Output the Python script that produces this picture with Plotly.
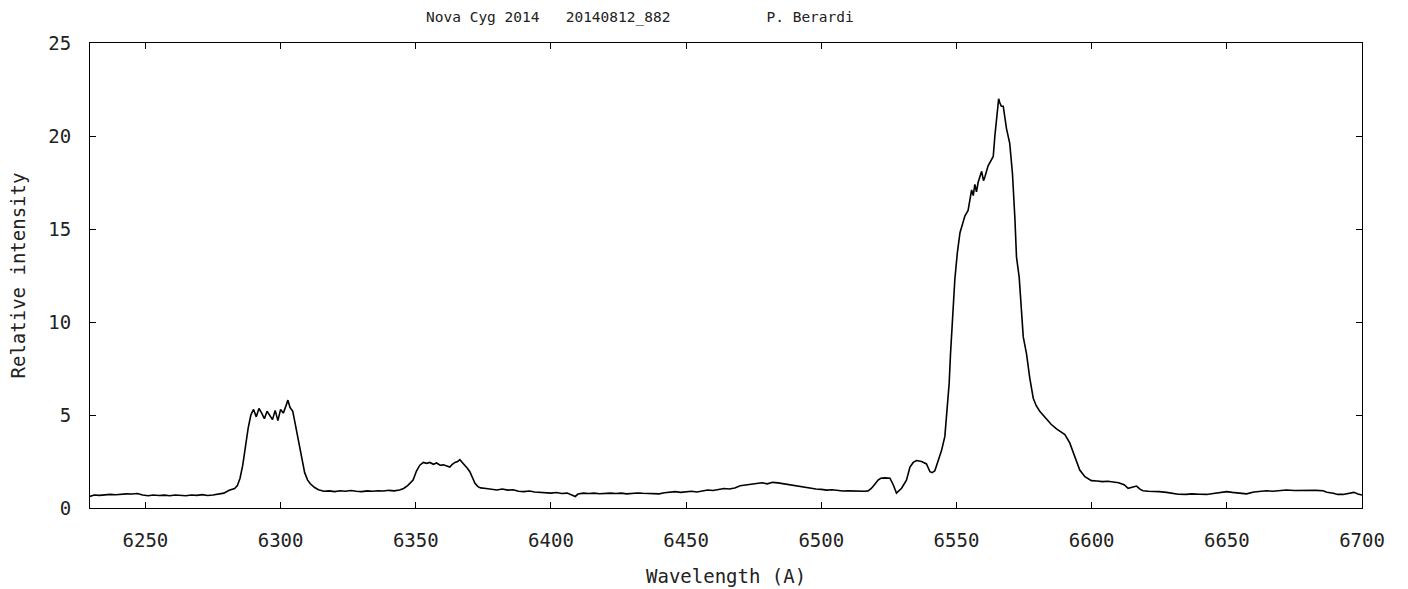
import plotly.graph_objects as go

wavelength = [
    6229.5, 6231, 6233, 6235, 6237, 6239, 6241, 6243, 6245, 6247, 6249, 6251, 6253, 6255, 6257, 6259,
    6261, 6263, 6265, 6267, 6269, 6271, 6273, 6275, 6277, 6279, 6281, 6283, 6284, 6285, 6286, 6287,
    6288, 6289, 6290, 6291, 6292, 6293, 6294, 6295, 6296, 6297, 6298, 6299, 6300, 6301, 6302, 6302.7,
    6303.5, 6304.5, 6305.3, 6306.4, 6307.6, 6308.9, 6310, 6311, 6312.6, 6314, 6316, 6318, 6320, 6322,
    6324, 6326, 6328, 6330, 6332, 6334, 6336, 6338, 6340, 6342, 6344, 6345.5, 6347, 6348, 6349, 6350.3,
    6351.5, 6352.8, 6354, 6355.2, 6356.5, 6357.7, 6359, 6360.2, 6361.5, 6362.6, 6363.5, 6364.5, 6365.5,
    6366.3, 6367.2, 6368.2, 6369, 6370, 6371, 6371.9, 6373, 6374, 6376, 6378, 6380, 6382, 6384, 6386,
    6388, 6390, 6392, 6394, 6396, 6398, 6400, 6402, 6404, 6406, 6408, 6409, 6410, 6412, 6414, 6416,
    6418, 6420, 6422, 6424, 6426, 6428, 6430, 6432, 6434, 6436, 6438, 6440, 6442, 6444, 6446, 6448,
    6450, 6452, 6454, 6456, 6458, 6460, 6462, 6464, 6466, 6468, 6470, 6472, 6474, 6476, 6478, 6480,
    6482, 6484, 6486, 6488, 6490, 6492, 6494, 6496, 6498, 6500, 6502, 6504, 6506, 6508, 6510, 6512,
    6514, 6516, 6517.3, 6518.5, 6519.8, 6521, 6522, 6523.5, 6525.4, 6526.6, 6527.8, 6528.6, 6529.7,
    6531.5, 6532.8, 6534, 6535.2, 6537.1, 6538.9, 6540.2, 6541, 6542, 6543.2, 6544.5, 6545.7, 6546.6,
    6547.3, 6547.8, 6548.6, 6549.4, 6550.3, 6551.3, 6553.1, 6554.3, 6555.6, 6556.2, 6556.8, 6557.4,
    6558, 6559.3, 6560, 6560.5, 6561.7, 6562.5, 6563.6, 6564.2, 6565.1, 6565.6, 6566, 6566.6, 6567.3,
    6568, 6568.5, 6569.7, 6570.7, 6571.6, 6572.2, 6573.2, 6574.1, 6574.7, 6575.9, 6577.1, 6578.4,
    6579.5, 6580.8, 6582, 6583.3, 6585, 6587, 6588.5, 6590.1, 6591.9, 6593.8, 6595.6, 6597.5, 6599.9,
    6602, 6604, 6606, 6608, 6610, 6612, 6613.5, 6615, 6616.6, 6618, 6619, 6621, 6623, 6625, 6627.7,
    6630, 6632, 6635, 6637, 6640, 6642.5, 6645, 6648, 6650, 6652, 6655, 6657.3, 6660, 6662, 6664.7,
    6667, 6670, 6672, 6675, 6678, 6680, 6683, 6685.6, 6687, 6689.4, 6691, 6693, 6695, 6697, 6698.5, 6700,
]

intensity = [
    0.62, 0.70, 0.68, 0.72, 0.73, 0.71, 0.74, 0.76, 0.75, 0.78, 0.70, 0.66, 0.70, 0.67, 0.69, 0.66,
    0.70, 0.68, 0.66, 0.70, 0.68, 0.72, 0.67, 0.70, 0.74, 0.80, 0.95, 1.05, 1.20, 1.60, 2.30, 3.30,
    4.30, 5.00, 5.30, 4.90, 5.35, 5.10, 4.80, 5.20, 5.00, 4.75, 5.25, 4.70, 5.30, 5.10, 5.50, 5.80,
    5.40, 5.20, 4.60, 3.80, 2.80, 1.90, 1.50, 1.30, 1.10, 0.98, 0.90, 0.92, 0.88, 0.93,
    0.90, 0.94, 0.90, 0.88, 0.92, 0.90, 0.93, 0.91, 0.95, 0.92, 0.97, 1.05, 1.20, 1.33, 1.50, 2.00,
    2.30, 2.45, 2.40, 2.45, 2.35, 2.42, 2.30, 2.32, 2.25, 2.20, 2.35, 2.45, 2.50,
    2.60, 2.45, 2.30, 2.15, 1.95, 1.60, 1.33, 1.15, 1.08, 1.05, 1.00, 0.97, 1.02, 0.96, 0.98,
    0.90, 0.88, 0.91, 0.86, 0.84, 0.82, 0.80, 0.83, 0.78, 0.80, 0.68, 0.62, 0.75, 0.80, 0.78, 0.80,
    0.77, 0.79, 0.80, 0.78, 0.80, 0.76, 0.79, 0.81, 0.79, 0.78, 0.74, 0.76, 0.82, 0.85, 0.88, 0.84,
    0.88, 0.90, 0.86, 0.93, 0.97, 0.94, 1.00, 1.05, 1.02, 1.08, 1.20, 1.25, 1.30, 1.33, 1.36, 1.30,
    1.38, 1.35, 1.30, 1.26, 1.22, 1.15, 1.10, 1.06, 1.02, 1.00, 0.96, 0.98, 0.93, 0.91, 0.92, 0.90,
    0.89, 0.90, 0.92, 1.05, 1.28, 1.50, 1.60, 1.62, 1.60, 1.25, 0.80, 0.90, 1.06,
    1.50, 2.20, 2.45, 2.55, 2.50, 2.37, 1.95, 1.90, 2.00, 2.50, 3.10, 3.85, 5.40,
    6.70, 8.30, 10.30, 12.30, 13.70, 14.80, 15.70, 16.00, 17.10, 16.80, 17.40, 17.00,
    17.50, 18.10, 17.60, 17.80, 18.40, 18.60, 18.90, 20.00, 21.60, 22.00, 21.80, 21.60, 21.60,
    20.90, 20.40, 19.60, 18.00, 15.60, 13.50, 12.40, 10.50, 9.20, 8.30, 7.00, 5.90,
    5.50, 5.20, 5.00, 4.80, 4.50, 4.25, 4.10, 3.95, 3.50, 2.76, 2.04, 1.68, 1.47,
    1.45, 1.42, 1.44, 1.38, 1.36, 1.25, 1.06, 1.12, 1.18, 1.00, 0.93, 0.90, 0.90, 0.88, 0.84,
    0.78, 0.74, 0.73, 0.76, 0.74, 0.73, 0.78, 0.84, 0.88, 0.84, 0.80, 0.76, 0.86, 0.90, 0.93,
    0.90, 0.96, 0.97, 0.94, 0.95, 0.93, 0.95, 0.93, 0.85, 0.79, 0.73, 0.73, 0.80, 0.84, 0.75, 0.70,
]

x_ticks = [6250, 6300, 6350, 6400, 6450, 6500, 6550, 6600, 6650, 6700]
y_ticks = [0, 5, 10, 15, 20, 25]

title_text = "Nova Cyg 2014   20140812_882           P. Berardi"
x_title = "Wavelength (A)"
y_title = "Relative intensity"

W, H = 1408, 589
L, R, T, B = 90, 1362, 43, 508
pw, ph = R - L, B - T

fig = go.Figure()
fig.add_trace(go.Scatter(x=wavelength, y=intensity, mode="lines",
                         line=dict(color="black", width=1.6), showlegend=False))

mono = "DejaVu Sans Mono"
tickfont = dict(family=mono, size=19, color="#222")

axis_common = dict(showline=True, linecolor="black", linewidth=1.2, mirror="ticks",
                   ticks="inside", ticklen=6, tickcolor="black", tickwidth=1,
                   showgrid=False, zeroline=False, tickfont=tickfont)

fig.update_layout(
    width=W, height=H,
    margin=dict(l=L, r=W - R, t=T, b=H - B),
    paper_bgcolor="white", plot_bgcolor="white",
    xaxis=dict(range=[6229.5, 6700], tickvals=x_ticks, ticklabelstandoff=15, **axis_common),
    yaxis=dict(range=[0, 25], tickvals=y_ticks, ticklabelstandoff=14, **axis_common),
    annotations=[
        dict(text=title_text, xref="paper", yref="paper", x=(424 - L) / pw, y=(B - 17) / ph,
             xanchor="left", yanchor="middle", showarrow=False,
             font=dict(family=mono, size=14.5, color="#222")),
        dict(text=x_title, xref="paper", yref="paper", x=0.5, y=(B - 576) / ph,
             xanchor="center", yanchor="middle", showarrow=False,
             font=dict(family=mono, size=19, color="#222")),
        dict(text=y_title, xref="paper", yref="paper", x=(17 - L) / pw, y=0.5,
             xanchor="center", yanchor="middle", showarrow=False, textangle=-90,
             font=dict(family=mono, size=19, color="#222")),
    ],
)

fig.write_html("out.html")
